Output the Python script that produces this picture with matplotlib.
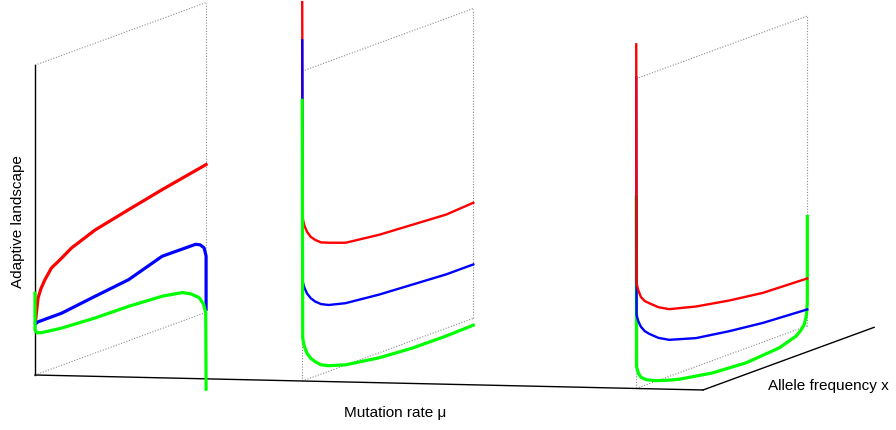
import matplotlib
matplotlib.use('Agg')
import matplotlib.pyplot as plt
import numpy as np
from mpl_toolkits.mplot3d import proj3d

plt.rcParams['font.family'] = ['Liberation Sans', 'DejaVu Sans']

# mutation rate of each slice
mu_slices = [0.0, 0.4, 0.9]

# slice 1 (allele frequency x, landscape value)
s1_red_x = [0.003, 0.006, 0.018, 0.035, 0.057, 0.096, 0.145, 0.214, 0.351, 0.547, 0.743, 1.0]
s1_red_z = [0.17, 0.188, 0.245, 0.272, 0.295, 0.326, 0.342, 0.367, 0.397, 0.423, 0.448, 0.477]
s1_blue_x = [0.006, 0.018, 0.155, 0.351, 0.547, 0.743, 0.939, 0.965, 0.988, 1.0, 1.0]
s1_blue_z = [0.165, 0.168, 0.168, 0.183, 0.197, 0.233, 0.232, 0.225, 0.211, 0.182, 0.01]
s1_green_x = [0.0, 0.0, 0.012, 0.037, 0.155, 0.351, 0.547, 0.743, 0.861, 0.91, 0.959, 0.985, 0.998, 1.0]
s1_green_z = [0.264, 0.145, 0.134, 0.129, 0.12, 0.113, 0.111, 0.104, 0.092, 0.078, 0.056, 0.03, -0.001, -0.248]

# slice 2
s2_red_x = [0.0, 0.003, 0.012, 0.028, 0.05, 0.076, 0.11, 0.155, 0.253, 0.449, 0.645, 0.841, 1.0]
s2_red_z = [1.223, 0.525, 0.5, 0.476, 0.455, 0.44, 0.425, 0.415, 0.395, 0.381, 0.374, 0.367, 0.373]
s2_blue_x = [0.0, 0.003, 0.012, 0.028, 0.05, 0.076, 0.11, 0.155, 0.253, 0.449, 0.645, 0.841, 1.0]
s2_blue_z = [1.1, 0.32, 0.3, 0.277, 0.257, 0.241, 0.226, 0.214, 0.2, 0.188, 0.181, 0.174, 0.174]
s2_green_x = [0.0, 0.003, 0.012, 0.028, 0.05, 0.076, 0.11, 0.155, 0.253, 0.449, 0.645, 0.841, 1.0]
s2_green_z = [0.906, 0.137, 0.11, 0.084, 0.063, 0.047, 0.03, 0.018, 0.001, -0.016, -0.024, -0.025, -0.022]

# slice 3
s3_red_x = [0.0, 0.002, 0.012, 0.027, 0.05, 0.076, 0.13, 0.193, 0.349, 0.544, 0.739, 1.0]
s3_red_z = [1.111, 0.339, 0.315, 0.29, 0.272, 0.26, 0.236, 0.217, 0.194, 0.174, 0.159, 0.153]
s3_blue_x = [0.0, 0.002, 0.012, 0.027, 0.05, 0.076, 0.13, 0.193, 0.349, 0.544, 0.739, 1.0]
s3_blue_z = [1.005, 0.237, 0.215, 0.194, 0.175, 0.161, 0.137, 0.118, 0.092, 0.075, 0.062, 0.053]
s3_green_x = [0.0, 0.002, 0.012, 0.027, 0.06, 0.115, 0.18, 0.251, 0.446, 0.642, 0.836, 0.934,
              0.96, 0.982, 0.995, 1.0, 1.0]
s3_green_z = [0.618, 0.07, 0.048, 0.031, 0.016, 0.002, -0.01, -0.021, -0.04, -0.047, -0.038, -0.02,
              -0.008, 0.008, 0.035, 0.075, 0.353]

slices = [
    (s1_red_x, s1_red_z, s1_blue_x, s1_blue_z, s1_green_x, s1_green_z),
    (s2_red_x, s2_red_z, s2_blue_x, s2_blue_z, s2_green_x, s2_green_z),
    (s3_red_x, s3_red_z, s3_blue_x, s3_blue_z, s3_green_x, s3_green_z),
]

W, H = 896, 430
fig = plt.figure(figsize=(W / 100, H / 100), dpi=100)
side = W / H
ax = fig.add_axes([0, (1 - side) / 2, 1, side], projection='3d',
                  proj_type='ortho', computed_zorder=False)
ax.set_axis_off()
ax.set_xlim(0, 1)
ax.set_ylim(0, 1)
ax.set_zlim(0, 1)
ax.view_init(elev=5.2, azim=-76.1)
aspect = (688, 712, 311)
ax.set_box_aspect(aspect)


def to_px(x, y, z):
    xs, ys, _ = proj3d.proj_transform(np.atleast_1d(x).astype(float),
                                      np.atleast_1d(y).astype(float),
                                      np.atleast_1d(z).astype(float),
                                      ax.get_proj())
    return ax.transData.transform(np.column_stack([xs, ys]))


# fit the box onto the figure: front-left-bottom corner and front edge length
fig.canvas.draw()
p = to_px([0, 1], [0, 0], [0, 0])
ax.set_box_aspect(aspect, zoom=668.2 / np.hypot(*(p[1] - p[0])))
fig.canvas.draw()
p0 = to_px(0, 0, 0)[0]
target = np.array([35, H - 375])
pos = ax.get_position(original=True)
ax.set_position([pos.x0 + (target[0] - p0[0]) / W,
                 pos.y0 + (target[1] - p0[1]) / H,
                 pos.width, pos.height])

dot = dict(color='0.55', lw=0.8, ls=(0, (1, 1.5)))
for m in mu_slices:
    ax.plot([m, m], [0, 1], [1, 1], **dot)
    ax.plot([m, m], [1, 1], [0, 1], **dot)
    ax.plot([m, m], [0, 1], [0, 0], **dot)
    if m > 0:
        ax.plot([m, m], [0, 0], [0, 1], **dot)

# box edges
ax.plot([0, 0], [0, 0], [0, 1], color='k', lw=1)
ax.plot([0, 1], [0, 0], [0, 0], color='k', lw=1)
ax.plot([1, 1], [0, 1], [0, 0], color='k', lw=1)

for i, (m, s) in enumerate(zip(mu_slices, slices)):
    rx, rz, bx, bz, gx, gz = s
    thin = 2.3 if i == 0 else 1.7
    if i == 2:
        ax.plot(np.full(len(gx), m), gx, gz, color='#00ff00', lw=2.3)
        ax.plot(np.full(len(bx), m), bx, bz, color='#0000ff', lw=thin)
        ax.plot(np.full(len(rx), m), rx, rz, color='#ff0000', lw=thin)
    else:
        ax.plot(np.full(len(rx), m), rx, rz, color='#ff0000', lw=thin)
        ax.plot(np.full(len(bx), m), bx, bz, color='#0000ff', lw=thin)
        ax.plot(np.full(len(gx), m), gx, gz, color='#00ff00', lw=2.3)

fig.text(18 / W, 1 - 222 / H, 'Adaptive landscape', rotation=90,
         ha='center', va='center', fontsize=11)
fig.text(395 / W, 1 - 413 / H, 'Mutation rate μ', ha='center', va='center',
         fontsize=11)
fig.text(768 / W, 1 - 386 / H, 'Allele frequency x', ha='left', va='center',
         fontsize=11)

fig.savefig('out.png', dpi=100)
